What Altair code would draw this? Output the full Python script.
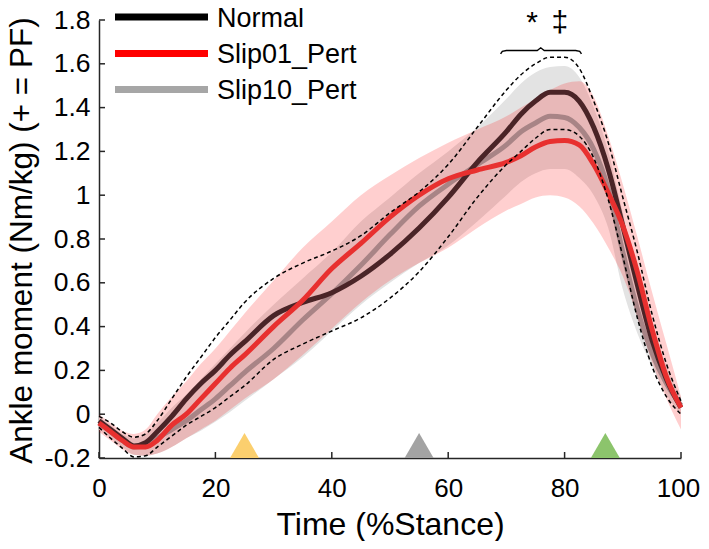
import altair as alt
import pandas as pd

# ---------------- data ----------------
stance = [0, 2, 4, 6, 8, 10, 12.5, 15, 17.5, 20, 22.5, 25, 30, 35, 40, 45, 50, 55, 60,
          65, 70, 72.5, 75, 77.5, 80, 82.5, 85, 87.5, 90, 92.5, 95, 97.5, 100]

normal_mean = [-0.03, -0.07, -0.11, -0.145, -0.13, -0.08, -0.01, 0.07, 0.14, 0.20, 0.27, 0.33,
               0.45, 0.51, 0.555, 0.63, 0.73, 0.85, 0.99, 1.15, 1.29, 1.37, 1.43, 1.47, 1.47,
               1.43, 1.31, 1.12, 0.86, 0.59, 0.34, 0.16, 0.03]
normal_upper = [-0.01, -0.04, -0.08, -0.105, -0.09, -0.03, 0.07, 0.17, 0.26, 0.35, 0.43, 0.51,
                0.62, 0.69, 0.745, 0.815, 0.92, 1.015, 1.14, 1.31, 1.48, 1.55, 1.60, 1.63, 1.63,
                1.58, 1.43, 1.24, 0.99, 0.74, 0.46, 0.23, 0.06]
normal_lower = [-0.06, -0.11, -0.155, -0.195, -0.19, -0.15, -0.10, -0.05, -0.01, 0.03, 0.08, 0.13,
                0.25, 0.32, 0.38, 0.44, 0.53, 0.65, 0.81, 0.99, 1.14, 1.20, 1.26, 1.30, 1.30,
                1.27, 1.17, 0.98, 0.72, 0.44, 0.22, 0.08, 0.0]

slip01_mean = [-0.04, -0.08, -0.12, -0.15, -0.15, -0.12, -0.05, 0.0, 0.07, 0.14, 0.21, 0.27,
               0.40, 0.52, 0.665, 0.78, 0.90, 1.00, 1.075, 1.115, 1.15, 1.18, 1.22, 1.245, 1.25,
               1.23, 1.14, 1.01, 0.86, 0.65, 0.39, 0.17, 0.03]
slip01_upper = [0.0, -0.04, -0.075, -0.09, -0.07, 0.0, 0.08, 0.15, 0.23, 0.30, 0.38, 0.46,
                0.61, 0.76, 0.88, 1.0, 1.09, 1.17, 1.24, 1.30, 1.36, 1.40, 1.44, 1.48, 1.51,
                1.52, 1.45, 1.27, 1.05, 0.81, 0.56, 0.32, 0.08]
slip01_lower = [-0.08, -0.12, -0.16, -0.185, -0.19, -0.18, -0.15, -0.11, -0.07, -0.03, 0.02, 0.07,
                0.16, 0.27, 0.39, 0.51, 0.61, 0.69, 0.76, 0.85, 0.93, 0.96, 0.99, 1.0, 0.99,
                0.95, 0.87, 0.76, 0.63, 0.45, 0.24, 0.07, -0.07]

slip10_mean = [-0.04, -0.08, -0.12, -0.15, -0.14, -0.11, -0.07, -0.03, 0.02, 0.07, 0.13, 0.19,
               0.30, 0.43, 0.55, 0.68, 0.82, 0.95, 1.05, 1.14, 1.23, 1.29, 1.33, 1.36, 1.355,
               1.31, 1.21, 1.03, 0.74, 0.48, 0.28, 0.14, 0.04]
slip10_upper = [-0.01, -0.05, -0.09, -0.11, -0.09, -0.04, 0.03, 0.09, 0.16, 0.23, 0.30, 0.37,
                0.50, 0.62, 0.74, 0.88, 0.99, 1.10, 1.20, 1.31, 1.44, 1.51, 1.56, 1.585, 1.59,
                1.54, 1.40, 1.20, 0.92, 0.63, 0.40, 0.22, 0.08]
slip10_lower = [-0.07, -0.11, -0.15, -0.185, -0.19, -0.18, -0.15, -0.11, -0.075, -0.035, 0.01,
                0.06, 0.16, 0.26, 0.38, 0.50, 0.60, 0.69, 0.77, 0.88, 1.0, 1.06, 1.10, 1.12, 1.12,
                1.08, 1.00, 0.85, 0.57, 0.37, 0.22, 0.09, 0.0]

x_ticks = [0, 20, 40, 60, 80, 100]
y_ticks = [-0.2, 0, 0.2, 0.4, 0.6, 0.8, 1, 1.2, 1.4, 1.6, 1.8]

legend_labels = ["Normal", "Slip01_Pert", "Slip10_Pert"]

event_x = [25, 55, 87]
event_colors = ["#fbcf6e", "#a3a3a3", "#8cc46c"]

brace_x = [69.0, 69.3, 70.0, 75.3, 75.9, 76.5, 81.9, 82.6, 82.9]
brace_y = [1.645, 1.657, 1.661, 1.661, 1.673, 1.661, 1.661, 1.657, 1.645]

sig_text = ["*", "\u2021"]
sig_x = [74.4, 79.2]
sig_y = [1.745, 1.745]

# ---------------- tables ----------------
df = pd.DataFrame({
    "stance": stance,
    "normal": normal_mean, "normal_hi": normal_upper, "normal_lo": normal_lower,
    "s01": slip01_mean, "s01_hi": slip01_upper, "s01_lo": slip01_lower,
    "s10": slip10_mean, "s10_hi": slip10_upper, "s10_lo": slip10_lower,
})
xt = pd.DataFrame({"t": x_ticks})
yt = pd.DataFrame({"t": y_ticks})
ev = pd.DataFrame({"x": event_x, "c": event_colors})
br = pd.DataFrame({"x": brace_x, "y": brace_y, "i": list(range(len(brace_x)))})
sg = pd.DataFrame({"x": sig_x, "y": sig_y, "s": sig_text})

W, H = 582, 438
FONT = "Liberation Sans"
AX = "#262626"

xs = alt.Scale(domain=[0, 100], nice=False, zero=False)
ys = alt.Scale(domain=[-0.2, 1.8], nice=False, zero=False)

x_axis = alt.Axis(values=x_ticks, ticks=False, tickSize=0, grid=False, domainColor=AX,
                  domainWidth=1.5, labelFont=FONT, labelFontSize=26, labelColor="#000",
                  labelPadding=17, labelFlush=False, labelOverlap=False,
                  labelOffset={"condition": {"test": "datum.value >= 100", "value": -3},
                               "value": 0},
                  title="Time (%Stance)", titleFont=FONT, titleFontSize=32,
                  titleFontWeight="normal", titleColor="#000", titleX=W / 2, titleY=76,
                  titleBaseline="alphabetic", titleAlign="center")
y_axis = alt.Axis(values=y_ticks, ticks=False, tickSize=0, grid=False, domainColor=AX,
                  domainWidth=1.5, labelFont=FONT, labelFontSize=26.5, labelColor="#000",
                  labelPadding=9, labelFlush=False, labelOverlap=False,
                  labelExpr="replace(format(datum.value, '.1~f'), '\u2212', '-')",
                  title="Ankle moment (Nm/kg) (+ = PF)", titleFont=FONT, titleFontSize=31.5,
                  titleFontWeight="normal", titleColor="#000", titleX=-68, titleY=H / 2 + 1,
                  titleAngle=270, titleBaseline="alphabetic", titleAlign="center")


def XQ(field):
    return alt.X(field + ":Q", scale=xs, axis=x_axis)


def YQ(field):
    return alt.Y(field + ":Q", scale=ys, axis=y_axis)


base = alt.Chart(df)

gray_band = base.mark_area(color="#e3e3e3", interpolate="monotone").encode(
    x=XQ("stance"), y=YQ("s10_lo"), y2="s10_hi:Q")
pink_band = base.mark_area(color="#ff0000", opacity=0.19, interpolate="monotone").encode(
    x=XQ("stance"), y=YQ("s01_lo"), y2="s01_hi:Q")

line_s10 = base.mark_line(color="#a88486", strokeWidth=5, interpolate="monotone").encode(
    x=XQ("stance"), y=YQ("s10"))
line_norm = base.mark_line(color="#4a2427", strokeWidth=5, interpolate="monotone").encode(
    x=XQ("stance"), y=YQ("normal"))
line_s01 = base.mark_line(color="#e8302f", strokeWidth=5, interpolate="monotone").encode(
    x=XQ("stance"), y=YQ("s01"))

dash_hi = base.mark_line(color="#000", strokeWidth=1.5, strokeDash=[4, 3],
                         interpolate="monotone").encode(x=XQ("stance"), y=YQ("normal_hi"))
dash_lo = base.mark_line(color="#000", strokeWidth=1.5, strokeDash=[4, 3],
                         interpolate="monotone").encode(x=XQ("stance"), y=YQ("normal_lo"))

x_tick_marks = alt.Chart(xt).mark_rule(color=AX, strokeWidth=1.5).encode(
    x=XQ("t"), y=alt.value(H), y2=alt.value(H - 6))
y_tick_marks = alt.Chart(yt).mark_rule(color=AX, strokeWidth=1.5).encode(
    y=YQ("t"), x=alt.value(0), x2=alt.value(6))

events = alt.Chart(ev).mark_point(shape="triangle-up", filled=True, size=841, opacity=1,
                                  strokeWidth=0).encode(
    x=XQ("x"), y=alt.value(H - 12.5), color=alt.Color("c:N", scale=None))

brace = alt.Chart(br).mark_line(color="#000", strokeWidth=1.4).encode(
    x=XQ("x"), y=YQ("y"), order="i:Q")
sig = alt.Chart(sg).mark_text(font=FONT, fontSize=30, color="#000", baseline="alphabetic",
                              align="center").encode(x=XQ("x"), y=YQ("y"), text="s:N")

legend_layers = []
leg_colors = ["#000000", "#ff0000", "#a6a6a6"]
leg_ypix = [-3.0, 33.5, 69.5]
for lab, col, yp in zip(legend_labels, leg_colors, leg_ypix):
    ld = pd.DataFrame({"label": [lab]})
    legend_layers.append(alt.Chart(ld).mark_rule(color=col, strokeWidth=7).encode(
        x=alt.value(16), x2=alt.value(109), y=alt.value(yp)))
    legend_layers.append(alt.Chart(ld).mark_text(font=FONT, fontSize=27, color="#000",
                                                 align="left", baseline="middle").encode(
        x=alt.value(118), y=alt.value(yp + 1.5), text="label:N"))

chart = alt.layer(
    gray_band, pink_band, line_s10, line_norm, line_s01, dash_hi, dash_lo,
    x_tick_marks, y_tick_marks, events, brace, sig, *legend_layers
).properties(
    width=W, height=H,
    autosize=alt.AutoSizeParams(type="none"),
    padding={"left": 91, "top": 12, "right": 20, "bottom": 83},
    background="white",
).configure_view(stroke=None)

chart.save("out.html", embed_options={"renderer": "svg", "actions": False})
